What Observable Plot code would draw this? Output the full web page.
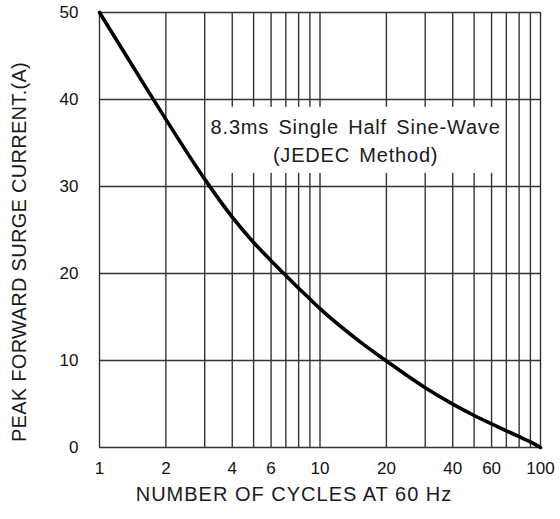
<!DOCTYPE html>
<html>
<head>
<meta charset="utf-8">
<script src="https://cdn.jsdelivr.net/npm/d3@7"></script>
<script src="https://cdn.jsdelivr.net/npm/@observablehq/plot@0.6"></script>
<style>
  html, body { margin: 0; padding: 0; background: #fff; }
  #chart svg { display: block; }
</style>
</head>
<body>
<div id="chart"></div>
<script>
// Data
const cycles  = [1, 1.5, 2, 3, 4, 5, 6, 7, 8, 9, 10, 15, 20, 30, 40, 50, 60, 70, 80, 90, 100];
const current = [50, 42.78, 37.72, 30.85, 26.48, 23.57, 21.47, 19.76, 18.31, 17.06, 15.96, 12.26, 9.95, 6.87, 4.99, 3.68, 2.71, 1.92, 1.25, 0.64, 0];

const gridCycles  = [1, 2, 3, 4, 5, 6, 7, 8, 9, 10, 20, 30, 40, 50, 60, 70, 80, 90, 100];
const gridCurrent = [0, 10, 20, 30, 40, 50];
const xTicks = [1, 2, 4, 6, 10, 20, 40, 60, 100];
const yTicks = [0, 10, 20, 30, 40, 50];

const noteLines = ["8.3ms Single Half Sine-Wave", "(JEDEC Method)"];
const noteAt  = [{cycles: 14.5, current: 35.4}];
const noteBox = [{c1: 3.05, c2: 68, a1: 31.5, a2: 39.1}];

const xTitle = "NUMBER OF CYCLES AT 60 Hz";
const yTitle = "PEAK FORWARD SURGE CURRENT.(A)";

const curve = cycles.map((c, i) => ({cycles: c, current: current[i]}));

const svg = Plot.plot({
  width: 560,
  height: 519,
  marginTop: 12,
  marginBottom: 72,
  marginLeft: 99,
  marginRight: 20,
  style: {fontFamily: "'Liberation Sans', Arial, Helvetica, sans-serif", fontSize: "17px", color: "#111", background: "#fff"},
  x: {type: "log", domain: [1, 100], axis: null},
  y: {domain: [0, 50]},
  marks: [
    Plot.ruleX(gridCycles, {stroke: "#333", strokeWidth: 1.4}),
    Plot.ruleY(gridCurrent, {stroke: "#333", strokeWidth: 1.4}),
    Plot.rect(noteBox, {x1: "c1", x2: "c2", y1: "a1", y2: "a2", fill: "#fff"}),
    Plot.text(noteAt, {x: "cycles", y: "current", text: () => noteLines.join("\n"), fontSize: 20, lineHeight: 1.4, fill: "#1a1a1a"}),
    Plot.line(curve, {x: "cycles", y: "current", stroke: "#000", strokeWidth: 3.6, curve: "monotone-x"}),
    Plot.text(xTicks, {x: d => d, text: d => String(d), frameAnchor: "bottom", lineAnchor: "top", dy: 14, fontSize: 17, fill: "#111"}),
    Plot.axisY(yTicks, {tickSize: 0, tickPadding: 21, label: null, fill: "#111"}),
    Plot.text([yTitle], {text: d => d, frameAnchor: "left", textAnchor: "middle", rotate: -90, dx: -80, dy: 22, fontSize: 20, fill: "#1a1a1a"}),
    Plot.text([xTitle], {text: d => d, frameAnchor: "bottom", dx: -26, dy: 53, fontSize: 20, fill: "#1a1a1a"})
  ]
});

d3.select(svg).selectAll("text").each(function() {
  const t = this.textContent;
  if (t === xTitle) d3.select(this).attr("letter-spacing", "1px");
  else if (t === yTitle) d3.select(this).attr("letter-spacing", "0.3px");
});
d3.select(svg).selectAll("tspan").each(function() {
  const t = this.textContent;
  if (noteLines.includes(t)) d3.select(this).attr("letter-spacing", "0.8px").attr("word-spacing", "3px");
});

document.getElementById("chart").appendChild(svg);
</script>
</body>
</html>
